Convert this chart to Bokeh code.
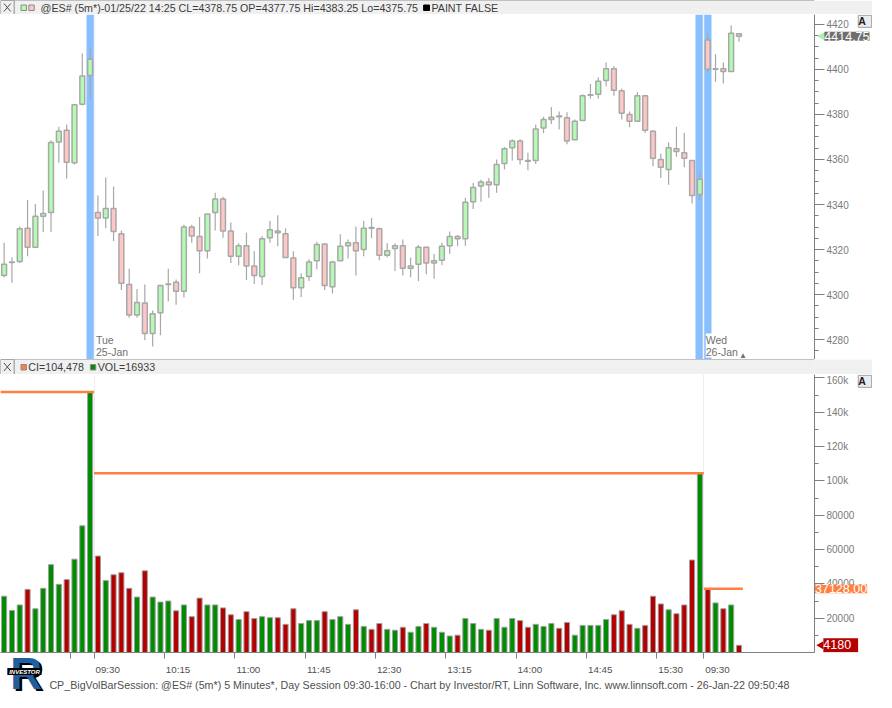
import numpy as np
from bokeh.plotting import figure
from bokeh.models import (Range1d, LinearAxis, FixedTicker, Label,
                          CustomJSTickFormatter)
from bokeh.layouts import column, row
from bokeh.embed import file_html
from bokeh.resources import INLINE
from bokeh.core.properties import value

# ---------------- data ----------------
session_names = ["Mon", "Tue", "Wed"]
session_dates = ["24-Jan", "25-Jan", "26-Jan"]
session_bars = [12, 78, 5]          # bars visible per session (5-minute bars)

opens = [4308.5, 4314.25, 4314.75, 4329.5, 4321.0, 4334.75, 4336.5, 4367.75, 4373.0, 4358.5, 4384.5, 4397.25,
         4336.5, 4334.0, 4338.25, 4327.0, 4304.5, 4291.0, 4296.25, 4282.75, 4292.0, 4304.5, 4305.5, 4301.5,
         4330.0, 4325.75, 4319.5, 4336.5, 4342.5, 4328.25, 4317.0, 4321.75, 4312.75, 4308.0, 4325.25, 4328.25,
         4327.0, 4316.25, 4303.0, 4308.0, 4315.0, 4322.5, 4303.5, 4315.0, 4321.75, 4323.0, 4320.0, 4329.75,
         4329.25, 4317.5, 4320.5, 4321.75, 4311.75, 4313.5, 4321.0, 4314.0, 4315.25, 4321.75, 4325.75, 4324.75,
         4341.25, 4348.25, 4350.0, 4348.75, 4358.25, 4365.25, 4368.25, 4359.5, 4359.5, 4374.0, 4377.75, 4379.25,
         4378.5, 4368.75, 4377.25, 4388.5, 4389.0, 4395.0, 4400.25, 4390.5, 4380.0, 4377.0, 4388.25, 4372.5,
         4360.0, 4355.5, 4364.75, 4363.0, 4359.5, 4344.5,
         4413.0, 4400.0, 4400.25, 4399.0, 4415.75]
highs = [4323.0, 4316.5, 4330.25, 4342.0, 4340.25, 4346.25, 4368.5, 4374.5, 4375.5, 4384.5, 4407.0, 4410.0,
         4344.0, 4352.0, 4348.0, 4328.5, 4311.5, 4302.5, 4304.5, 4293.0, 4304.0, 4311.5, 4306.75, 4331.0,
         4331.0, 4334.5, 4335.75, 4345.25, 4343.5, 4332.0, 4322.75, 4327.5, 4319.25, 4326.0, 4332.75, 4335.25,
         4329.5, 4319.25, 4309.5, 4315.75, 4323.5, 4322.75, 4315.0, 4326.75, 4324.5, 4330.25, 4332.75, 4334.0,
         4329.75, 4322.75, 4322.75, 4324.5, 4316.5, 4322.0, 4321.0, 4318.0, 4323.0, 4328.0, 4326.5, 4343.0,
         4349.5, 4351.0, 4351.75, 4360.0, 4365.5, 4369.0, 4369.0, 4363.0, 4375.5, 4379.0, 4383.25, 4381.25,
         4381.0, 4377.75, 4389.0, 4393.5, 4396.5, 4403.0, 4401.5, 4391.5, 4381.25, 4390.0, 4388.5, 4373.0,
         4362.5, 4367.5, 4374.5, 4371.75, 4359.5, 4354.25,
         4416.0, 4406.75, 4403.0, 4419.5, 4416.0]
lows = [4307.75, 4305.25, 4314.0, 4317.0, 4321.0, 4327.75, 4327.75, 4358.5, 4351.5, 4357.75, 4384.0, 4386.75,
        4326.0, 4329.5, 4323.75, 4302.0, 4289.75, 4289.75, 4279.75, 4277.0, 4282.0, 4297.0, 4295.5, 4298.75,
        4323.0, 4309.5, 4316.0, 4328.5, 4325.25, 4314.0, 4313.0, 4306.5, 4304.75, 4304.25, 4323.0, 4321.5,
        4316.25, 4297.75, 4299.0, 4306.0, 4311.25, 4302.0, 4300.5, 4315.0, 4316.0, 4308.5, 4317.0, 4325.0,
        4315.25, 4316.5, 4310.5, 4308.5, 4307.75, 4306.0, 4309.0, 4307.0, 4313.0, 4318.0, 4321.5, 4321.75,
        4338.0, 4341.25, 4343.0, 4345.25, 4355.5, 4359.5, 4357.75, 4355.25, 4358.0, 4371.75, 4375.75, 4373.25,
        4366.75, 4368.75, 4377.25, 4387.0, 4387.0, 4392.5, 4388.25, 4377.75, 4374.25, 4377.0, 4371.75, 4357.0,
        4351.75, 4348.75, 4361.25, 4356.5, 4340.5, 4341.75,
        4398.5, 4394.5, 4393.75, 4399.0, 4412.25]
closes = [4313.5, 4314.5, 4329.25, 4321.0, 4334.75, 4336.0, 4367.5, 4372.5, 4358.75, 4384.25, 4397.0, 4404.5,
          4334.0, 4338.25, 4328.0, 4305.0, 4291.0, 4296.5, 4282.75, 4291.5, 4304.0, 4304.75, 4301.5, 4330.0,
          4326.0, 4319.5, 4335.75, 4342.5, 4328.25, 4317.0, 4321.75, 4312.75, 4308.5, 4324.75, 4328.75, 4327.5,
          4316.5, 4303.0, 4307.5, 4314.5, 4322.25, 4304.0, 4314.5, 4321.5, 4323.0, 4319.5, 4329.5, 4329.5,
          4317.5, 4319.5, 4321.75, 4311.75, 4312.75, 4321.0, 4314.0, 4315.0, 4321.5, 4325.75, 4324.75, 4341.0,
          4347.5, 4350.0, 4348.75, 4357.75, 4364.75, 4368.25, 4360.0, 4359.25, 4373.5, 4377.75, 4378.75, 4379.0,
          4368.25, 4377.0, 4388.25, 4388.75, 4394.75, 4400.25, 4390.75, 4380.5, 4377.0, 4388.25, 4373.0, 4360.5,
          4356.5, 4365.25, 4363.5, 4360.5, 4344.0, 4351.25,
          4400.0, 4400.25, 4399.0, 4416.0, 4414.75]
volumes = [32800, 24500, 27700, 36800, 25500, 37400, 51200, 39700, 42500, 54400, 73800, 151800,
           56200, 41900, 45300, 46500, 37400, 32300, 47600, 32300, 29400, 30000, 24300, 27700,
           20900, 31700, 27700, 27700, 26000, 22000, 19200, 23800, 19800, 20900, 20300, 20300,
           16400, 25500, 16900, 18600, 18600, 23800, 19200, 20900, 16400, 24900, 15200, 13500,
           16900, 13500, 13000, 14700, 11800, 15200, 16900, 14700, 11800, 9600, 10100, 19800,
           16900, 13500, 13000, 19800, 14700, 19800, 18600, 14700, 16400, 15200, 16933, 14100,
           17500, 10100, 15800, 15800, 15800, 19200, 22000, 24300, 16400, 14100, 15800, 32800,
           28300, 24900, 22600, 27700, 53900, 104478,
           37128, 28900, 25500, 27700, 4180]

time_labels = ["09:30", "10:15", "11:00", "11:45", "12:30", "13:15", "14:00", "14:45", "15:30", "09:30"]
time_label_bars = [12, 21, 30, 39, 48, 57, 66, 75, 84, 90]
extra_tick_bars = [9]

price_ticks = list(range(4280, 4421, 20))
price_minor = list(range(4270, 4426, 5))
vol_ticks = list(range(20000, 160001, 20000))
vol_minor = list(range(10000, 160001, 10000))

cursor_bar = 70
cursor_stamp = "01/25/22 14:25"
symbol = "@ES# (5m*)"
footer = ("CP_BigVolBarSession: @ES# (5m*) 5 Minutes*, Day Session 09:30-16:00 - Chart by "
          "Investor/RT, Linn Software, Inc. www.linnsoft.com - 26-Jan-22 09:50:48")

# ---------------- layout constants ----------------
SC = 0.977
FW, RW = 814, 58          # frame width, right axis strip
H1, HP, H2, HV, HB = 14, 345, 15, 278, 40
HL, HX = 56, 8            # bottom overlay height, and its overhang below the layout
FONT = "Liberation Sans"
UP_FILL, DN_FILL, CANDLE_LINE = "#B3FAB3", "#FFC6C6", "#A8A8A8"
VUP, VDN = "#008C00", "#B40000"
HILITE = "#88C0FF"
ORANGE = "#FF7F40"
AXIS = "#808080"
TICKTXT = "#7a7a7a"

o = np.array(opens); h = np.array(highs); l = np.array(lows); c = np.array(closes)
v = np.array(volumes, dtype=float)
n = len(o)
x = np.arange(n)
up = c >= o
starts = np.cumsum([0] + session_bars[:-1])
ends = starts + np.array(session_bars) - 1
smax_idx = [int(s + np.argmax(v[s:e + 1])) for s, e in zip(starts, ends)]
smax_val = [v[i] for i in smax_idx]
bounds = [s - 0.5 for s in starts[1:]]

xr = Range1d(-0.4625, 103.66)


def style_y(ax):
    ax.axis_line_color = AXIS
    ax.major_tick_line_color = AXIS
    ax.minor_tick_line_color = AXIS
    ax.major_tick_in = 0
    ax.minor_tick_in = 0
    ax.major_tick_out = 10
    ax.minor_tick_out = 4
    ax.major_label_standoff = 2
    ax.major_label_text_font = FONT
    ax.major_label_text_font_size = "10px"
    ax.major_label_text_color = TICKTXT


def header_fig(hh):
    f = figure(frame_width=FW, frame_height=hh, x_range=Range1d(0, 833), y_range=Range1d(hh, 0),
               x_axis_location=None, y_axis_location=None, toolbar_location=None,
               output_backend="svg", min_border=0, min_border_right=RW, outline_line_color=None,
               border_fill_color="#F0F0F0", background_fill_color="#F0F0F0")
    f.grid.visible = False
    f.hspan(y=[0.3, hh - 0.3], line_color="#8c8c8c", line_width=1.2)
    f.quad(left=[0], right=[14], top=[0], bottom=[hh], fill_color=None,
           line_color="#8c8c8c", line_width=1)
    m = hh / 2
    f.segment(x0=[3.5, 3.5], y0=[m - 4, m + 4], x1=[10.5, 10.5], y1=[m + 4, m - 4],
              line_color="#505050", line_width=1)
    return f


def htext(f, xs, ys, txt, color="#3c3c3c", size="10.7px"):
    f.text(x=xs, y=ys, text=txt, text_font=value(FONT), text_font_size=value(size),
           text_color=color, text_baseline="middle", text_align="left")


def overlay_fig(y_range, fh, bottom=0):
    f = figure(frame_width=RW, frame_height=fh, x_range=Range1d(833, 892), y_range=y_range,
               x_axis_location=None, y_axis_location=None, toolbar_location=None,
               output_backend="svg", min_border=0, min_border_bottom=bottom,
               outline_line_color=None, background_fill_color=None, border_fill_color=None,
               margin=(0, 0, 0, -RW))
    f.grid.visible = False
    return f


def a_button(f, fh):
    f.add_layout(Label(x=877.5, y=fh - 7 * SC, x_units="data", y_units="screen", text=" A ",
                       text_font=FONT, text_font_size="10.5px", text_font_style="bold",
                       text_color="#202020", background_fill_color="#ececec",
                       border_line_color="#a0a0a0", text_baseline="middle", text_align="left"))


def tag(f, xpos, yval, txt, bg, pointer=None):
    if pointer is not None:
        f.scatter(x=[xpos - 2.5], y=[yval], marker="triangle", angle=np.pi / 2, size=8,
                  fill_color=pointer, line_color=None)
    f.add_layout(Label(x=xpos, y=yval, x_units="data", y_units="data", text=txt,
                       text_font=FONT, text_font_size="12.5px", text_color="white",
                       background_fill_color=bg, text_baseline="middle", text_align="left"))


# ---------------- header 1 ----------------
hd1 = header_fig(H1)
hd1.quad(left=[21, 29], right=[26.5, 34.5], top=[4.5, 4.5], bottom=[10, 10],
         fill_color=[UP_FILL, DN_FILL], line_color="#8a8a8a", line_width=1)
cb = cursor_bar
htext(hd1, [41], [7.3],
      [f"{symbol}-{cursor_stamp} CL={c[cb]:.2f} OP={o[cb]:.2f} Hi={h[cb]:.2f} Lo={l[cb]:.2f}"])
hd1.quad(left=[433], right=[439], top=[4.5], bottom=[10], fill_color="black", line_color="black")
htext(hd1, [441], [7.3], ["PAINT FALSE"])

# ---------------- price pane ----------------
p1 = figure(frame_width=FW, frame_height=HP, x_range=xr, y_range=Range1d(4271.2, 4424.35),
            x_axis_location=None, y_axis_location="right", toolbar_location=None,
            output_backend="svg", min_border_left=0, min_border_right=RW,
            min_border_top=0, min_border_bottom=0, outline_line_color=None)
p1.grid.visible = False
ya = p1.yaxis[0]
ya.ticker = FixedTicker(ticks=price_ticks, minor_ticks=price_minor)
style_y(ya)

p1.vstrip(x0=[i - 0.5 for i in smax_idx], x1=[i + 0.5 for i in smax_idx],
          fill_color=HILITE, line_color=None)
p1.vspan(x=bounds, line_color="#f4f4f4", line_width=1.5)
p1.segment(x0=x, y0=l, x1=x, y1=h, line_color=CANDLE_LINE, line_width=1.2)
p1.vbar(x=x, width=0.62, top=np.maximum(o, c), bottom=np.minimum(o, c),
        fill_color=[UP_FILL if u else DN_FILL for u in up], line_color=CANDLE_LINE, line_width=1.5)

for k in range(1, len(session_names)):
    p1.add_layout(Label(x=starts[k] - 0.5 + 0.25, y=2, x_units="data", y_units="screen",
                        text=f"{session_names[k]}\n{session_dates[k]}", text_font=FONT,
                        text_font_size="10.5px", text_color="#707070", text_baseline="bottom",
                        text_align="left", text_line_height=1.0,
                        background_fill_color="white"))
p1.add_layout(Label(x=n - 0.5, y=0, x_units="data", y_units="screen", text="▲",
                    text_font_size="8px", text_color="#707070", text_align="center",
                    text_baseline="bottom"))

t1 = overlay_fig(p1.y_range, HP)
tag(t1, 843, c[-1], f"{c[-1]:.2f}", "#6e6e6e", pointer="#A8F0A8")
a_button(t1, HP)

# ---------------- header 2 ----------------
hd2 = header_fig(H2)
hd2.quad(left=[21, 92], right=[26.5, 97.5], top=[5, 5], bottom=[10.5, 10.5],
         fill_color=[ORANGE, VUP], line_color="#8a8a8a", line_width=1)
ci_now = int(smax_val[1])
htext(hd2, [28.5], [7.8], [f"CI={ci_now:,}"])
htext(hd2, [99.5], [7.8], [f"VOL={int(v[cursor_bar])}"])

# ---------------- volume pane ----------------
p2 = figure(frame_width=FW, frame_height=HV, x_range=xr, y_range=Range1d(0, 162000),
            x_axis_location=None, y_axis_location="right", toolbar_location=None,
            output_backend="svg", min_border_left=0, min_border_right=RW,
            min_border_top=0, min_border_bottom=HB, outline_line_color=None)
p2.grid.visible = False
va = p2.yaxis[0]
va.ticker = FixedTicker(ticks=vol_ticks, minor_ticks=vol_minor)
va.formatter = CustomJSTickFormatter(
    code="return tick >= 100000 ? (tick/1000).toFixed(0) + 'k' : tick.toFixed(0);")
style_y(va)

p2.vspan(x=bounds, line_color="#ececec", line_width=1)
p2.vbar(x=x, width=0.65, top=v, bottom=0,
        fill_color=[VUP if u else VDN for u in up], line_color="#a0a0a0", line_width=1)
p2.segment(x0=[s - 0.5 for s in starts], x1=[e + 0.5 for e in ends],
           y0=smax_val, y1=smax_val, line_color=ORANGE, line_width=2.5)

tick_pos = [b - 0.5 for b in time_label_bars + extra_tick_bars]
lab_pos = [b - 0.5 + 1.75 for b in time_label_bars]
xa = LinearAxis(ticker=FixedTicker(ticks=lab_pos, minor_ticks=tick_pos),
                major_tick_out=0, major_tick_in=0, major_tick_line_color=None,
                minor_tick_out=6, minor_tick_in=0, minor_tick_line_color=AXIS,
                axis_line_color=AXIS, major_label_standoff=5, major_label_text_font=FONT,
                major_label_text_font_size="9.8px", major_label_text_color="#505050",
                formatter=CustomJSTickFormatter(
                    args=dict(t=lab_pos, lab=time_labels),
                    code="const i = t.findIndex(q => Math.abs(q - tick) < 1e-6); return i >= 0 ? lab[i] : '';"))
p2.add_layout(xa, "below")

t2 = overlay_fig(p2.y_range, HV, bottom=HB)
tag(t2, 833.5, smax_val[-1], f"{smax_val[-1]:.2f}", ORANGE)
tag(t2, 842, v[-1], f" {int(v[-1])} ", VDN, pointer=VDN)
a_button(t2, HV)

# ---------------- bottom strip: logo + footer (overlays the time-axis area) ----------------
lg = figure(frame_width=FW + RW, frame_height=HL + HX, x_range=Range1d(0, 892),
            y_range=Range1d(708 + HX / SC, 708 - HL / SC),
            x_axis_location=None, y_axis_location=None, toolbar_location=None,
            output_backend="svg", min_border=0, outline_line_color=None,
            background_fill_color=None, border_fill_color=None, margin=(-HL, 0, -HX, 0))
lg.grid.visible = False
lg.text(x=[12.5], y=[690.5], text=["R"], text_font=value(FONT), text_font_size=value("44px"),
        text_font_style="bold", text_color="black", text_baseline="middle")
lg.text(x=[10], y=[689], text=["R"], text_font=value(FONT), text_font_size=value("44px"),
        text_font_style="bold", text_color="#1d5f9f", text_baseline="middle")
lg.quad(left=[7], right=[42], top=[683], bottom=[690], fill_color="black", line_color=None)
lg.text(x=[24.5], y=[686.7], text=["INVESTOR"], text_font=value(FONT), text_font_size=value("6px"),
        text_font_style="bold italic", text_color="white", text_baseline="middle",
        text_align="center")
lg.text(x=[50], y=[700.5], text=[footer], text_font=value(FONT), text_font_size=value("10.7px"),
        text_color="#505050", text_baseline="middle", text_align="left")

layout = column(hd1, row(p1, t1, spacing=0), hd2, row(p2, t2, spacing=0), lg, spacing=0)
open("out.html", "w").write(file_html(layout, INLINE))
